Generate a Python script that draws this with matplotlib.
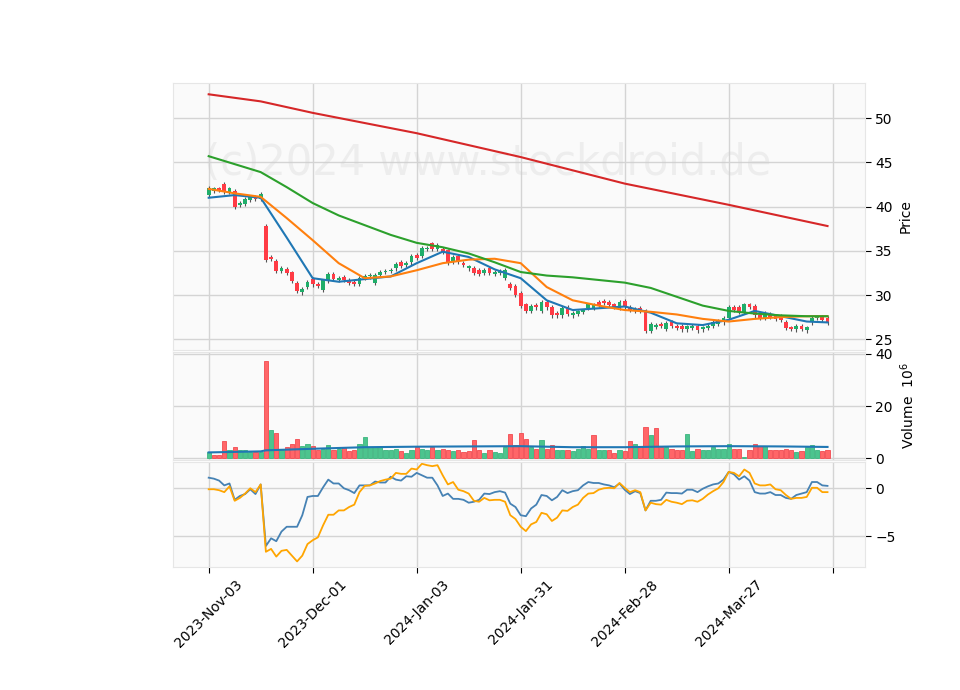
import numpy as np
import matplotlib
matplotlib.use("Agg")
import matplotlib.pyplot as plt

# OHLC (per trading day)
opens = [41.3, 41.8, 42.0, 42.5, 41.7, 41.7, 40.2, 40.3, 40.8, 41.1,
         40.9, 37.8, 34.3, 33.8, 32.7, 32.9, 32.5, 31.3, 30.3, 30.9,
         31.8, 31.2, 30.6, 31.6, 32.3, 31.7, 32.0, 31.7, 31.4, 31.3,
         31.9, 32.1, 31.4, 32.3, 32.6, 32.7, 33.0, 33.7, 33.4, 33.7,
         34.5, 34.4, 35.2, 35.8, 35.2, 35.2, 35.0, 33.8, 34.4, 33.6,
         33.0, 33.0, 32.8, 32.5, 33.0, 32.4, 32.5, 31.9, 31.2, 31.0,
         30.2, 28.9, 28.2, 28.8, 28.2, 29.2, 28.6, 27.9, 27.7, 28.6,
         27.7, 27.9, 28.1, 28.5, 28.5, 29.2, 29.3, 29.2, 28.9, 28.5,
         29.3, 28.6, 28.2, 28.5, 28.2, 25.9, 26.4, 26.7, 26.2, 26.9,
         26.5, 26.5, 26.1, 26.3, 26.5, 26.1, 26.3, 26.5, 26.7, 26.9,
         27.4, 28.6, 28.6, 28.1, 28.9, 28.7, 27.7, 27.4, 27.8, 27.6,
         27.6, 26.9, 26.3, 26.1, 26.5, 26.0, 26.9, 27.4, 27.5, 27.4]
closes = [42.1, 42.0, 41.9, 41.7, 42.0, 40.0, 40.4, 40.8, 41.0, 40.9,
          41.4, 34.0, 34.1, 32.7, 33.0, 32.5, 31.6, 30.5, 30.6, 31.4,
          31.2, 31.0, 31.6, 32.3, 31.8, 31.9, 31.7, 31.4, 31.3, 31.9,
          32.1, 32.2, 32.2, 32.6, 32.7, 32.8, 33.5, 33.3, 33.6, 34.4,
          34.2, 35.3, 35.3, 35.2, 35.6, 34.9, 33.7, 34.3, 33.8, 33.4,
          33.2, 32.5, 32.4, 32.8, 32.5, 32.6, 32.7, 32.8, 30.8, 30.0,
          28.8, 28.2, 28.7, 28.6, 29.2, 28.6, 27.7, 27.7, 28.5, 27.9,
          27.9, 28.1, 28.2, 28.9, 28.8, 28.9, 29.1, 28.9, 28.7, 29.2,
          28.7, 28.3, 28.4, 28.2, 25.9, 26.7, 26.6, 26.5, 26.8, 26.5,
          26.3, 26.1, 26.4, 26.5, 26.0, 26.3, 26.5, 26.9, 27.0, 27.4,
          28.6, 28.3, 28.1, 28.9, 28.7, 27.7, 27.4, 27.9, 27.5, 27.3,
          27.2, 26.3, 26.2, 26.5, 26.2, 26.3, 27.4, 27.5, 27.2, 26.9]
volume = [2.2, 1.4, 1.4, 6.5, 3.1, 4.1, 3.1, 3.1, 2.2, 2.2,
          2.4, 37.2, 11.0, 9.5, 3.3, 4.1, 5.6, 7.2, 4.6, 5.6,
          4.6, 3.3, 3.7, 5.0, 3.3, 3.7, 4.1, 2.8, 3.3, 5.6,
          8.0, 4.1, 4.1, 4.1, 3.1, 3.1, 3.7, 2.7, 1.8, 3.3,
          4.1, 3.7, 3.1, 4.1, 3.1, 3.7, 3.3, 2.7, 3.1, 2.4,
          2.7, 6.9, 3.1, 2.1, 3.1, 2.2, 1.8, 4.1, 9.1, 5.0,
          9.5, 7.2, 4.1, 3.7, 6.9, 3.7, 5.0, 3.3, 3.3, 3.3,
          2.7, 3.7, 4.6, 3.7, 8.7, 3.3, 3.1, 3.1, 1.8, 3.1,
          2.7, 6.5, 5.6, 4.1, 11.8, 8.8, 11.4, 4.4, 4.4, 3.7,
          3.1, 3.3, 9.2, 2.7, 3.7, 3.1, 3.3, 4.4, 3.7, 3.7,
          5.3, 3.7, 3.7, 0.3, 3.3, 5.3, 4.6, 4.6, 3.3, 3.1,
          3.3, 3.7, 3.1, 2.2, 2.7, 4.4, 5.0, 3.1, 2.7, 3.3]

# moving averages, read every 5 bars
ma_idx = [0, 5, 10, 15, 20, 25, 30, 35, 40, 45, 50, 55, 60, 65, 70, 75,
          80, 85, 90, 95, 100, 105, 110, 115, 119]
ma_blue = [41.0, 41.3, 41.0, 36.5, 31.9, 31.5, 31.8, 32.1, 33.6, 34.9, 34.3, 32.9,
           31.9, 29.4, 28.3, 28.5, 28.7, 28.0, 26.8, 26.6, 27.2, 28.2, 27.6, 27.0, 26.9]
ma_orange = [42.0, 41.5, 41.1, 38.7, 36.2, 33.6, 31.9, 32.1, 32.8, 33.6, 34.0, 34.1,
             33.6, 30.9, 29.4, 28.8, 28.3, 28.1, 27.8, 27.3, 27.0, 27.3, 27.5, 27.6, 27.6]
ma_green = [45.7, 44.8, 43.9, 42.2, 40.4, 39.0, 37.9, 36.8, 35.9, 35.4, 34.7, 33.7,
            32.6, 32.2, 32.0, 31.7, 31.4, 30.8, 29.8, 28.8, 28.2, 27.9, 27.7, 27.6, 27.6]
ma200_idx = [0, 10, 20, 40, 60, 80, 100, 119]
ma_red = [52.7, 51.9, 50.6, 48.3, 45.6, 42.6, 40.2, 37.8]

vol_ma_idx = [0, 10, 11, 20, 30, 40, 50, 60, 70, 80, 90, 100, 110, 119]
vol_ma = [2.2, 2.6, 3.0, 3.6, 4.2, 4.4, 4.5, 4.6, 4.2, 4.2, 4.5, 4.6, 4.5, 4.3]

osc_blue = [1.1, 1.0, 0.8, 0.3, 0.5, -1.2, -0.8, -0.6, -0.1, -0.6,
            0.4, -6.0, -5.2, -5.5, -4.5, -4.0, -4.0, -4.0, -2.8, -0.9,
            -0.8, -0.8, 0.1, 0.9, 0.5, 0.5, 0.0, -0.2, -0.5, 0.3,
            0.3, 0.3, 0.7, 0.6, 0.6, 1.2, 0.9, 0.8, 1.25, 1.2,
            1.6, 1.35, 1.1, 1.1, 0.3, -0.8, -0.55, -1.1, -1.1, -1.2,
            -1.5, -1.4, -1.2, -0.55, -0.6, -0.4, -0.3, -0.45, -1.6, -1.95,
            -2.8, -2.9, -2.1, -1.7, -0.7, -0.8, -1.25, -0.9, -0.2, -0.5,
            -0.3, -0.2, 0.3, 0.65, 0.55, 0.55, 0.4, 0.3, 0.1, 0.5,
            -0.15, -0.6, -0.3, -0.5, -2.3, -1.3, -1.3, -1.2, -0.45, -0.5,
            -0.5, -0.55, -0.15, -0.15, -0.4, -0.05, 0.2, 0.4, 0.5, 0.9,
            1.7, 1.45, 0.9, 1.25, 0.8, -0.4, -0.55, -0.55, -0.4, -0.7,
            -0.7, -1.0, -1.1, -0.7, -0.55, -0.4, 0.65, 0.65, 0.3, 0.25]
osc_orange = [-0.1, -0.1, -0.2, -0.4, 0.2, -1.3, -1.0, -0.55, 0.0, -0.4,
              0.4, -6.6, -6.3, -7.1, -6.5, -6.4, -7.0, -7.6, -7.0, -5.8,
              -5.4, -5.1, -3.85, -2.75, -2.75, -2.3, -2.3, -1.95, -1.7, -0.4,
              0.25, 0.3, 0.5, 0.75, 0.9, 1.0, 1.6, 1.5, 1.5, 2.05,
              1.95, 2.55, 2.4, 2.3, 2.4, 1.35, 0.4, 0.65, -0.15, -0.3,
              -0.55, -1.3, -1.4, -1.0, -1.25, -1.2, -1.2, -1.4, -2.8, -3.2,
              -4.0, -4.45, -3.75, -3.5, -2.55, -2.7, -3.4, -3.05, -2.3, -2.35,
              -1.95, -1.7, -1.0, -0.55, -0.5, -0.15, 0.0, 0.05, 0.0, 0.55,
              0.05, -0.4, -0.2, -0.4, -2.3, -1.5, -1.65, -1.7, -1.2, -1.4,
              -1.5, -1.65, -1.3, -1.25, -1.4, -1.1, -0.65, -0.3, 0.0, 0.65,
              1.7, 1.6, 1.25, 1.95, 1.6, 0.5, 0.3, 0.3, 0.4, -0.1,
              -0.2, -0.7, -1.1, -1.0, -1.0, -0.9, 0.05, 0.05, -0.4, -0.4]

tick_pos = [0, 20, 40, 60, 80, 100, 120]
tick_labels = ['2023-Nov-03', '2023-Dec-01', '2024-Jan-03', '2024-Jan-31',
               '2024-Feb-28', '2024-Mar-27', '']

UP, DOWN = '#1fae6a', '#ff3b45'
GRID = '#d4d4d4'

fig = plt.figure(figsize=(9.6, 6.9), dpi=100)
ax1 = fig.add_axes([0.18, 0.493, 0.721, 0.387])
ax2 = fig.add_axes([0.18, 0.333, 0.721, 0.157], sharex=ax1)
ax3 = fig.add_axes([0.18, 0.178, 0.721, 0.152], sharex=ax1)

x = np.arange(len(closes))
o = np.array(opens)
c = np.array(closes)
up = c >= o

for ax in (ax1, ax2, ax3):
    ax.set_facecolor('#fafafa')
    ax.grid(True, color=GRID, lw=1)
    ax.set_axisbelow(True)
    for s in ax.spines.values():
        s.set_color('#e6e6e6')
    ax.yaxis.tick_right()
    ax.yaxis.set_label_position('right')
    ax.tick_params(axis='both', colors='black', labelsize=10, length=4)

# candles
hi = np.maximum(o, c) + 0.25
lo = np.minimum(o, c) - 0.25
ax1.vlines(x, lo, hi, color='#555555', lw=0.8, zorder=2)
ax1.bar(x, np.abs(c - o) + 0.05, bottom=np.minimum(o, c), width=0.7,
        color=np.where(up, UP, DOWN), zorder=3)
ax1.plot(ma_idx, ma_blue, color='#1f77b4', lw=1.5, zorder=4)
ax1.plot(ma_idx, ma_orange, color='#ff7f0e', lw=1.5, zorder=4)
ax1.plot(ma_idx, ma_green, color='#2ca02c', lw=1.5, zorder=4)
ax1.plot(ma200_idx, ma_red, color='#d62728', lw=1.5, zorder=4)
ax1.set_ylim(23.8, 54)
ax1.set_yticks([25, 30, 35, 40, 45, 50])
ax1.set_ylabel('Price')
ax1.text(0.455, 0.7, '(c)2024 www.stockdroid.de', transform=ax1.transAxes,
         ha='center', va='center', fontsize=30, color='#d0d0d0', alpha=0.3)

# volume
vup = np.concatenate([[True], c[1:] >= c[:-1]])
ax2.bar(x, volume, width=0.8, color=np.where(vup, '#4cc48e', '#ff6668'),
        edgecolor=np.where(vup, '#3bb57e', '#f24a50'), lw=0.6, zorder=3)
ax2.plot(vol_ma_idx, vol_ma, color='#1f77b4', lw=1.5, zorder=4)
ax2.set_ylim(-0.8, 40.8)
ax2.set_yticks([0, 20, 40])
ax2.set_ylabel('Volume  $10^{6}$')

for ax in (ax1, ax2):
    ax.tick_params(axis='x', which='both', length=0, labelbottom=False)

# oscillator
ax3.plot(x, osc_blue, color='#4682b4', lw=1.3)
ax3.plot(x, osc_orange, color='orange', lw=1.3)
ax3.set_ylim(-8.2, 2.7)
ax3.set_yticks([-5, 0])

ax3.set_xlim(-6.9, 126.2)
ax3.set_xticks(tick_pos)
ax3.set_xticklabels(tick_labels, rotation=45, ha='center')

plt.savefig('out.png')
plt.close()
